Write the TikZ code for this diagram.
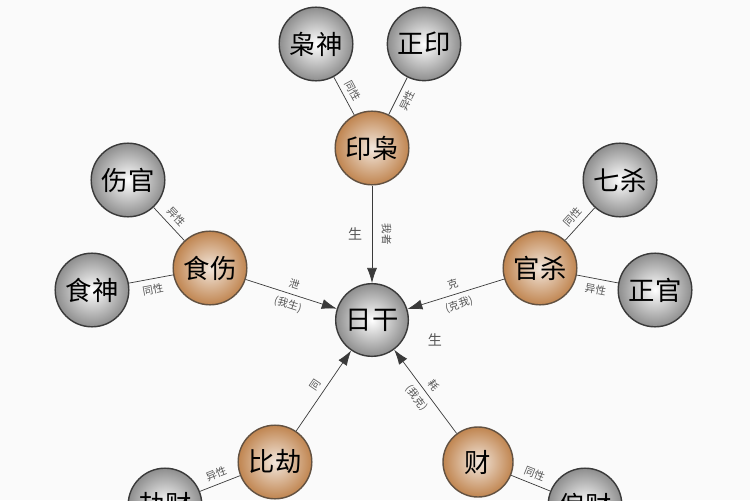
\documentclass[tikz,border=0pt]{standalone}
\usepackage{fontspec}
\setmainfont{Noto Sans CJK SC}
\usepackage{xcolor}
\definecolor{mainDark}{HTML}{3A3A3A}
\definecolor{greyBall}{HTML}{8E8E8E}
\definecolor{copperBall}{HTML}{C08550}
\definecolor{labelGrey}{HTML}{555555}
\usetikzlibrary{positioning,calc,arrows.meta}
\tikzset{
  greyNode/.style={
    circle,
    draw=mainDark,
    thick,
    inner color=white,
    outer color=greyBall,
    minimum size=1.4cm,
    font=\fontsize{15}{15}\selectfont
 },
  copperNode/.style={
    circle,
    draw=mainDark!70!copperBall,
    thick,
    inner color=white!80!copperBall,
    outer color=copperBall,
    minimum size=1.4cm,
    font=\fontsize{15}{15}\selectfont
 },
  arrowLine/.style={
    -{Latex[length=3mm,width=2mm]},
    color=mainDark
 },
  plainLine/.style={
    color=mainDark
 },
  tagText/.style={
    font=\fontsize{6}{6}\selectfont,
    color=labelGrey,
    inner sep=1pt,
    sloped
 }
}
\begin{document}
\begin{tikzpicture}[x=0.02cm,y=-0.02cm]
  \useasboundingbox (0,0) rectangle (750,500);
  \clip (0,0) rectangle (750,500);
  \fill[white!96!gray] (0,0) rectangle (750,500);
  % centre
  \node[greyNode] (rigan) at (372,320) {日干};
  % inner ring
  \node[copperNode] (yinxiao) at (372,148) {印枭};
  \node[copperNode] (shishang) at (210,268) {食伤};
  \node[copperNode] (guansha) at (540,268) {官杀};
  \node[copperNode] (bijie) at (275,462) {比劫};
  \node[copperNode] (cai) at (478,462) {财};
  % outer ring
  \node[greyNode] (xiaoshen) at (316,44) {枭神};
  \node[greyNode] (zhengyin) at (424,44) {正印};
  \node[greyNode] (shangguan) at (128,180) {伤官};
  \node[greyNode] (shishen) at (92,290) {食神};
  \node[greyNode] (qisha) at (620,180) {七杀};
  \node[greyNode] (zhengguan) at (655,290) {正官};
  \node[greyNode] (jiecai) at (165,505) {劫财};
  \node[greyNode] (piancai) at (585,505) {偏财};

  % arrows into the centre
  \draw[arrowLine] (yinxiao) -- node[left=2pt,font=\fontsize{8}{8}\selectfont,color=labelGrey]{生}
    node[right=2pt,font=\fontsize{6}{6}\selectfont,color=labelGrey,rotate=-90,anchor=south]{我者} (rigan);
  \draw[arrowLine] (shishang) -- node[tagText,above=2pt]{泄} node[tagText,below=2pt]{(我生)} (rigan);
  \draw[arrowLine] (guansha) -- node[tagText,above=2pt]{克} node[tagText,below=2pt]{(克我)} (rigan);
  \draw[arrowLine] (bijie) -- node[tagText,above=2pt]{同} (rigan);
  \draw[arrowLine] (cai) -- node[tagText,above=2pt]{耗} node[tagText,below=2pt]{(我克)} (rigan);
  \node[font=\fontsize{8}{8}\selectfont,color=labelGrey] (sheng) at (435,340) {生};

  % links to the outer ring
  \draw[plainLine] (yinxiao) -- node[tagText,above=2pt]{同性} (xiaoshen);
  \draw[plainLine] (yinxiao) -- node[tagText,below=2pt]{异性} (zhengyin);
  \draw[plainLine] (shishang) -- node[tagText,above=2pt]{异性} (shangguan);
  \draw[plainLine] (shishang) -- node[tagText,below=2pt]{同性} (shishen);
  \draw[plainLine] (guansha) -- node[tagText,above=2pt]{同性} (qisha);
  \draw[plainLine] (guansha) -- node[tagText,below=2pt]{异性} (zhengguan);
  \draw[plainLine] (bijie) -- node[tagText,above=2pt]{异性} (jiecai);
  \draw[plainLine] (cai) -- node[tagText,above=2pt]{同性} (piancai);
\end{tikzpicture}
\end{document}
